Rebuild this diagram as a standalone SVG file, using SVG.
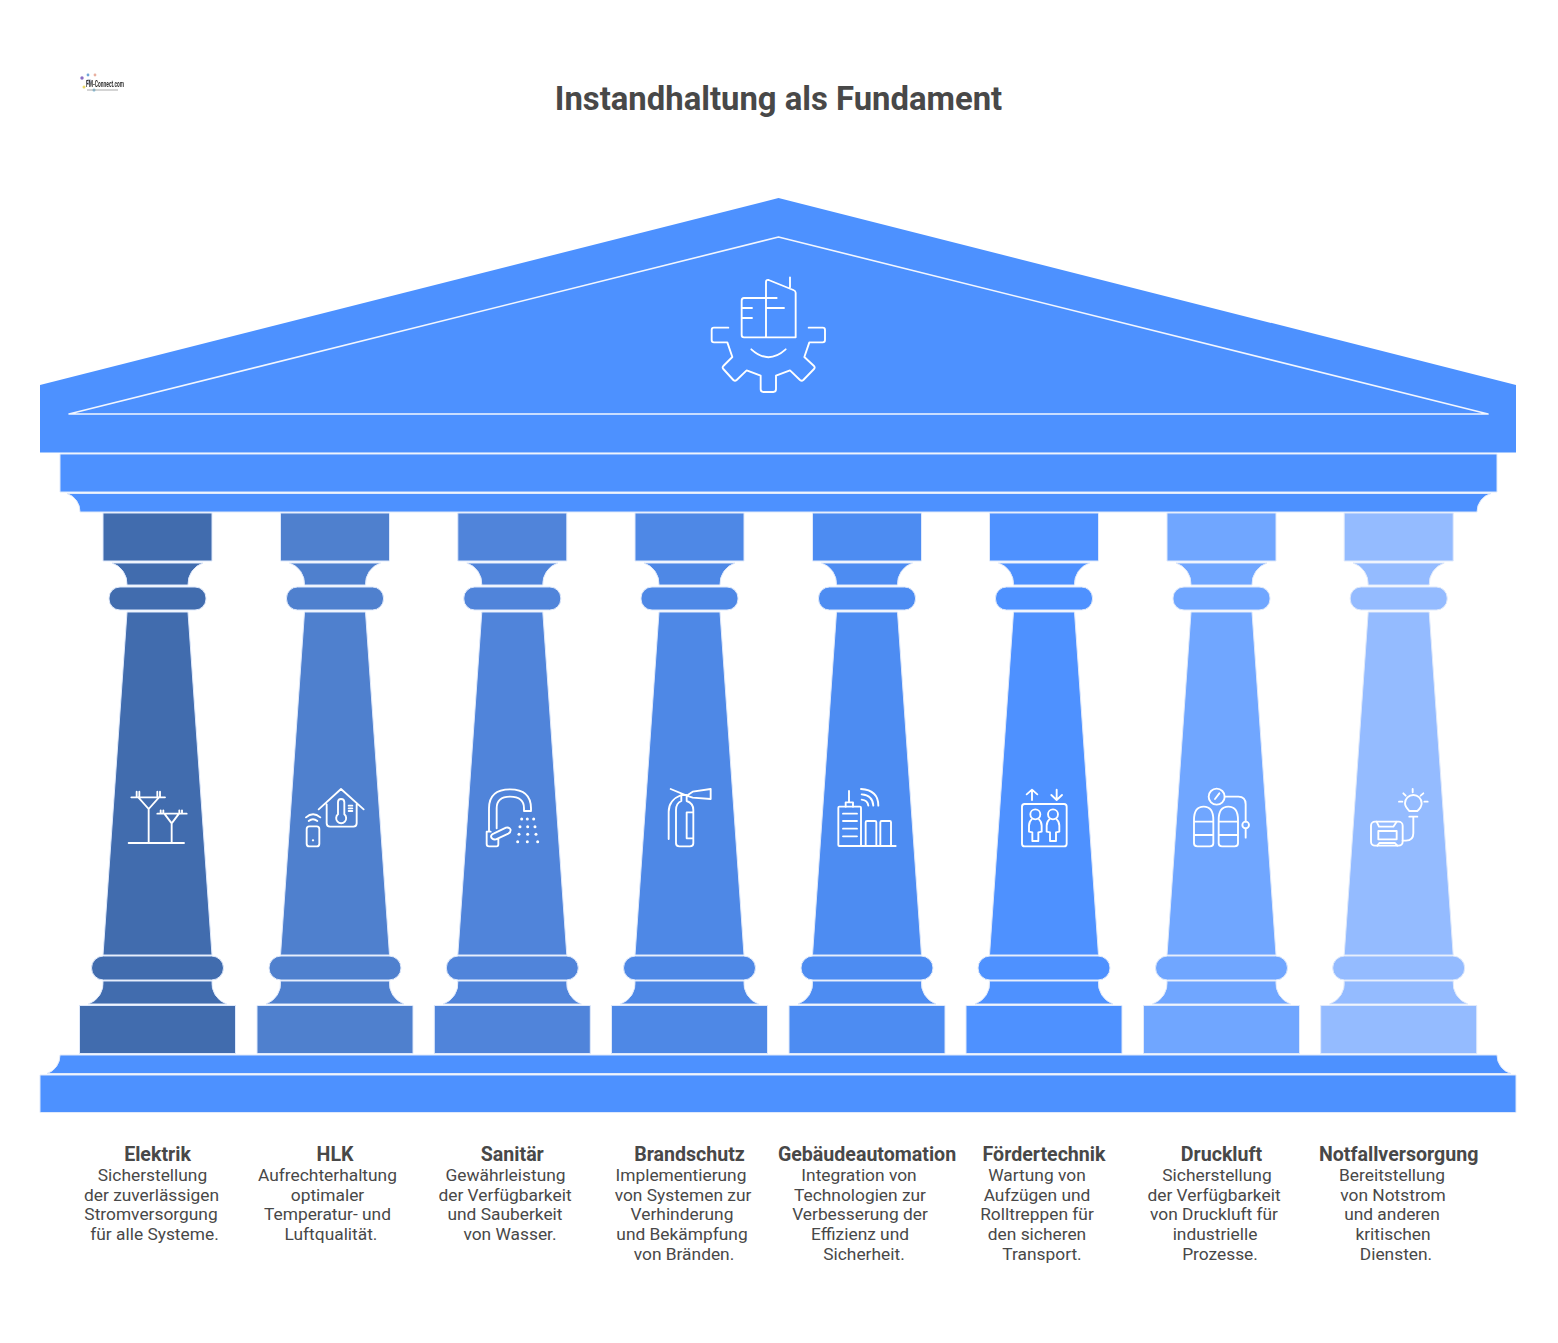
<svg xmlns="http://www.w3.org/2000/svg" width="1558" height="1343" viewBox="0 0 1558 1343">
<style>
text{font-family:Roboto,"Liberation Sans",sans-serif;fill:#484848;text-anchor:middle}
.t{font-size:32.850px;font-weight:700}
.h{font-size:19.600px;font-weight:700}
.b{font-size:17.350px}
.s{fill:#4d91ff;stroke:#dfe9fb;stroke-width:1}
.edge{stroke:#dfe9fb;stroke-width:1}
.ic{fill:none;stroke:#fff;stroke-width:5.600;stroke-linecap:round;stroke-linejoin:round}
.ic .d{fill:#fff;stroke:none}
</style>
<defs>
<filter id="soft" x="-20%" y="-20%" width="140%" height="140%"><feGaussianBlur stdDeviation=".45"/></filter>
<g id="col" class="edge">
<path d="M-54.500 513H54.500V561H-54.500Z"/>
<path d="M-45.500 563H45.500A22 22 0 0 0 30.500 585H-30.500A22 22 0 0 0-45.500 563Z"/>
<rect x="-48.500" y="587" width="97" height="23" rx="11"/>
<path d="M-30.500 612H30.500L54.500 955H-54.500Z"/>
<rect x="-66" y="956" width="132" height="24" rx="12"/>
<path d="M-54.500 981H54.500A22 22 0 0 0 69 1004H-69A22 22 0 0 0-54.500 981Z"/>
<path d="M-78 1005.500H78V1053.500H-78Z"/>
</g>
</defs>
<rect width="1558" height="1343" fill="#fff"/>
<g id="logo" filter="url(#soft)">
<circle cx="82" cy="78" r="1.700" fill="#8a6cc4"/><circle cx="88" cy="75" r="1.400" fill="#6fa6d8"/><circle cx="84" cy="87" r="1.500" fill="#e8d86a"/><circle cx="94" cy="90" r="1.500" fill="#6fb6d8"/><circle cx="95" cy="75" r="1.400" fill="#e9b0a0"/><circle cx="89" cy="82" r="3" fill="#c5c9d6"/>
<text x="105" y="87" font-size="9" font-weight="700" textLength="38" lengthAdjust="spacingAndGlyphs" style="fill:#333">FM-Connect.com</text>
<path d="M87 90H118" stroke="#aaa" stroke-width="1"/>
</g>
<text class="t" x="778.500" y="110">Instandhaltung als Fundament</text>
<g id="roof">
<path class="s" style="stroke:none" d="M40 385L778.500 198L1516 385V452.500H40Z"/>
<path d="M69 414L778.500 237L1488 414Z" fill="none" stroke="#f2f6ff" stroke-width="1.600" stroke-linejoin="round"/>
<path class="s" d="M60 454H1497V492H60Z"/>
<path class="s" d="M67 493.500H1491A19 19 0 0 0 1477 512H80A19 19 0 0 0 67 493.500Z"/>
<g class="ic" transform="translate(690 260) scale(.33333)">
<path d="M228 232V66Q228 58 236 60L310 90Q317 93 317 98V232H162Q155 232 155 225V122Q155 114 162 114H260M155 144H186M155 174H186M228 144H282M300 52V82"/>
<path d="M115 203H72Q65 203 65 210V240Q65 247 72 247H112L127 291L100 318Q96 323 100 327L130 360Q135 364 140 360L170 331L212 347V388Q212 396 220 396H250Q258 396 258 388V347L300 331L330 360Q335 364 340 360L372 327Q376 323 372 318L343 291L358 247H398Q405 247 405 240V210Q405 203 398 203H356"/>
<path d="M184 268Q235 315 287 268"/>
</g>
</g>
<g id="plinth">
<path class="s" d="M60 1055H1497A19 19 0 0 0 1511 1073.500H47A19 19 0 0 0 60 1055Z"/>
<path class="s" d="M40 1075H1516V1112.500H40Z"/>
</g>
<g id="elektrik">
<use href="#col" x="157.500" fill="#416cae"/>
<g class="ic" transform="translate(110 775) scale(.33333)"><path d="M64 67H165M80 50V67M88 50V67M142 50V67M150 50V67M85 67L116 102L147 67M116 102V204M56 204H222M142 116H230M152 106V116M160 106V116M208 106V116M216 106V116M163 116L185 145L207 116M185 145V204"/></g>
<text class="h" x="157.500" y="1160.500">Elektrik</text>
<text class="b"><tspan x="152.500" y="1181">Sicherstellung</tspan><tspan x="151.500" y="1200.700">der zuverlässigen</tspan><tspan x="151" y="1220.400">Stromversorgung</tspan><tspan x="154.500" y="1240">für alle Systeme.</tspan></text>
</g>
<g id="hlk">
<use href="#col" x="335" fill="#4f80ce"/>
<g class="ic" transform="translate(110 775) scale(.33333)"><path d="M626 103L693 42L761 103M650 88V145Q650 155 660 155H730Q740 155 740 145V88M684 118V82Q684 72 693 72Q703 72 703 82V118A15 15 0 1 1 684 118M716 92H727M716 100H727M716 108H727"/><rect x="590" y="154" width="38" height="60" rx="8"/><circle class="d" cx="609" cy="196" r="3.500"/><path d="M588 127Q609 108 631 127M596 138Q609 127 622 138"/></g>
<text class="h" x="335" y="1160.500">HLK</text>
<text class="b"><tspan x="327.500" y="1181">Aufrechterhaltung</tspan><tspan x="327.500" y="1200.700">optimaler</tspan><tspan x="327.500" y="1220.400">Temperatur- und</tspan><tspan x="331" y="1240">Luftqualität.</tspan></text>
</g>
<g id="sanitaer">
<use href="#col" x="512.300" fill="#5084da"/>
<g class="ic" transform="translate(470 775) scale(.33333)"><path d="M57 167V100Q57 43 120 43Q183 43 183 100V108H162V100Q162 65 120 65Q80 65 80 100V160M62 170H50V207Q50 214 57 214H80Q85 214 85 208V192M72 175L108 158Q120 156 122 165Q122 172 115 176L78 193Q66 195 63 185Q63 178 72 175Z"/><g class="d"><circle cx="155" cy="132" r="4.500"/><circle cx="172" cy="132" r="4.500"/><circle cx="191" cy="132" r="4.500"/><circle cx="150" cy="155" r="4.500"/><circle cx="173" cy="155" r="4.500"/><circle cx="195" cy="155" r="4.500"/><circle cx="147" cy="178" r="4.500"/><circle cx="173" cy="178" r="4.500"/><circle cx="198" cy="178" r="4.500"/><circle cx="143" cy="200" r="4.500"/><circle cx="172" cy="200" r="4.500"/><circle cx="203" cy="200" r="4.500"/></g></g>
<text class="h" x="512.300" y="1160.500">Sanitär</text>
<text class="b"><tspan x="505.500" y="1181">Gewährleistung</tspan><tspan x="505" y="1200.700">der Verfügbarkeit</tspan><tspan x="505" y="1220.400">und Sauberkeit</tspan><tspan x="510" y="1240">von Wasser.</tspan></text>
</g>
<g id="brandschutz">
<use href="#col" x="689.500" fill="#4e88e6"/>
<g class="ic" transform="translate(470 775) scale(.33333)"><path d="M618 105Q618 85 634 78V60H650V78Q670 85 670 105V205Q670 214 660 214H628Q618 214 618 205ZM602 42L650 62L668 50L722 42V72L668 68L650 62M634 60Q596 75 596 110V192M650 112H668M650 190H668M650 112V190"/></g>
<text class="h" x="689.500" y="1160.500">Brandschutz</text>
<text class="b"><tspan x="681" y="1181">Implementierung</tspan><tspan x="683" y="1200.700">von Systemen zur</tspan><tspan x="682" y="1220.400">Verhinderung</tspan><tspan x="682" y="1240">und Bekämpfung</tspan><tspan x="684" y="1259.700">von Bränden.</tspan></text>
</g>
<g id="gebaeudeautomation">
<use href="#col" x="867" fill="#4d8cf2"/>
<g class="ic" transform="translate(825 775) scale(.33333)"><rect x="40" y="95" width="68" height="118" rx="3"/><path d="M62 95V82H84V95M72 48V82M54 116H96M54 138H96M54 161H96M54 184H96M122 213V142Q122 138 126 138H150Q154 138 154 142V213M166 213V142Q166 138 170 138H194Q198 138 198 142V213M108 213H212M108 42Q160 45 160 92M110 58Q143 60 145 92M110 74Q128 76 130 92"/></g>
<text class="h" x="867" y="1160.500">Gebäudeautomation</text>
<text class="b"><tspan x="859" y="1181">Integration von</tspan><tspan x="860" y="1200.700">Technologien zur</tspan><tspan x="860" y="1220.400">Verbesserung der</tspan><tspan x="860" y="1240">Effizienz und</tspan><tspan x="864" y="1259.700">Sicherheit.</tspan></text>
</g>
<g id="foerdertechnik">
<use href="#col" x="1044" fill="#4e91ff"/>
<g class="ic" transform="translate(825 775) scale(.33333)"><rect x="591" y="87" width="134" height="127" rx="8"/><path d="M621 75V44M605 58L621 44L637 58M695 44V75M679 60L695 75L711 60"/><circle cx="631" cy="118" r="15"/><circle cx="684" cy="118" r="15"/><path d="M620 133Q612 140 612 152V170L622 172V198H640V172L650 170V152Q650 140 642 133M673 133Q665 140 665 152V170L675 172V198H693V172L703 170V152Q703 140 695 133"/></g>
<text class="h" x="1044" y="1160.500">Fördertechnik</text>
<text class="b"><tspan x="1037" y="1181">Wartung von</tspan><tspan x="1037" y="1200.700">Aufzügen und</tspan><tspan x="1037" y="1220.400">Rolltreppen für</tspan><tspan x="1037" y="1240">den sicheren</tspan><tspan x="1042" y="1259.700">Transport.</tspan></text>
</g>
<g id="druckluft">
<use href="#col" x="1221.500" fill="#70a6ff"/>
<g class="ic" transform="translate(1180 775) scale(.33333)"><circle cx="110" cy="65" r="24"/><path d="M105 72L118 55M134 65H175Q197 65 197 88V140M197 160V188"/><circle cx="197" cy="150" r="10"/><path d="M42 135Q42 95 71 95Q100 95 100 135V205Q100 214 90 214H52Q42 214 42 205ZM42 140H100M42 180H100M116 135Q116 95 145 95Q174 95 174 135V205Q174 214 164 214H126Q116 214 116 205ZM116 140H174M116 180H174"/></g>
<text class="h" x="1221.500" y="1160.500">Druckluft</text>
<text class="b"><tspan x="1217" y="1181">Sicherstellung</tspan><tspan x="1214" y="1200.700">der Verfügbarkeit</tspan><tspan x="1214" y="1220.400">von Druckluft für</tspan><tspan x="1215" y="1240">industrielle</tspan><tspan x="1220" y="1259.700">Prozesse.</tspan></text>
</g>
<g id="notfallversorgung">
<use href="#col" x="1398.700" fill="#94bbff"/>
<g class="ic" transform="translate(1180 775) scale(.33333)"><path d="M688 108Q675 95 675 85A25 25 0 1 1 725 85Q725 97 712 108ZM688 125H712M700 125V175Q700 197 678 197H668M698 42V52M670 55L677 62M730 55L722 62M657 80H667M733 80H743"/><rect x="573" y="140" width="95" height="72" rx="12"/><path d="M590 140L597 155H640L650 140M592 212L598 204H645L652 212"/><rect x="595" y="168" width="55" height="25"/></g>
<text class="h" x="1398.700" y="1160.500">Notfallversorgung</text>
<text class="b"><tspan x="1392" y="1181">Bereitstellung</tspan><tspan x="1393" y="1200.700">von Notstrom</tspan><tspan x="1392" y="1220.400">und anderen</tspan><tspan x="1393" y="1240">kritischen</tspan><tspan x="1396" y="1259.700">Diensten.</tspan></text>
</g>
</svg>
